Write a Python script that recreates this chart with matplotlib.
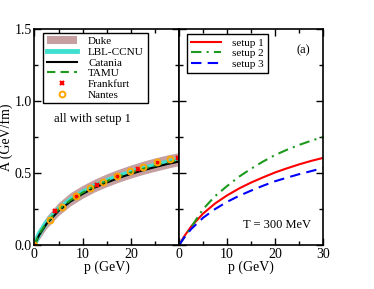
import matplotlib
matplotlib.use("Agg")
import matplotlib.pyplot as plt
from matplotlib.patches import Patch
from matplotlib.lines import Line2D
from matplotlib.ticker import MultipleLocator

plt.rcParams["font.family"] = ["Liberation Serif", "DejaVu Serif"]
plt.rcParams["mathtext.fontset"] = "stix"

# momento (GeV)
p = [0, 1, 2.5, 5, 7.5, 10, 12.5, 15, 17.5, 20, 22.5, 25, 27.5, 30]

# painel esquerdo: todos com setup 1
duke_baixo = [0.0, 0.04, 0.115, 0.205, 0.273, 0.325, 0.369, 0.405, 0.437, 0.465, 0.490, 0.512, 0.533, 0.552]
duke_alto = [0.04, 0.115, 0.198, 0.295, 0.365, 0.415, 0.458, 0.495, 0.527, 0.556, 0.582, 0.605, 0.625, 0.642]
lbl_ccnu = [0.0, 0.08, 0.158, 0.249, 0.315, 0.367, 0.411, 0.447, 0.479, 0.507, 0.532, 0.554, 0.575, 0.594]
catania = [0.0, 0.07, 0.147, 0.237, 0.303, 0.355, 0.399, 0.434, 0.466, 0.494, 0.519, 0.541, 0.562, 0.58]
tamu = [0.0, 0.078, 0.155, 0.246, 0.312, 0.364, 0.408, 0.444, 0.476, 0.504, 0.529, 0.551, 0.572, 0.591]

p_frankfurt = [0, 4.3, 8.6, 12.9, 17.1, 21.4, 25.6, 29.8]
a_frankfurt = [0.0, 0.233, 0.34, 0.417, 0.479, 0.527, 0.572, 0.607]

p_nantes = [0, 3.2, 5.8, 8.7, 11.5, 14.2, 17.1, 19.9, 22.6, 25.4, 28.2]
a_nantes = [0.0, 0.177, 0.267, 0.34, 0.394, 0.44, 0.479, 0.514, 0.544, 0.574, 0.60]

# painel direito: T = 300 MeV
setup1 = [0.0, 0.058, 0.129, 0.219, 0.289, 0.345, 0.393, 0.434, 0.470, 0.504, 0.533, 0.560, 0.584, 0.605]
setup2 = [0.0, 0.05, 0.125, 0.25, 0.34, 0.41, 0.475, 0.53, 0.58, 0.625, 0.662, 0.695, 0.724, 0.75]
setup3 = [0.0, 0.05, 0.111, 0.19, 0.25, 0.30, 0.342, 0.378, 0.412, 0.443, 0.468, 0.492, 0.513, 0.535]

fs = 10     # eixos
fs_leg = 8  # legendas
fs_txt = 9  # textos soltos

cor_duke = "#bc8f8f"
cor_verde = "#1e9a1e"

fig = plt.figure(figsize=(3.74, 2.89), dpi=100)
ax1 = fig.add_axes([0.092, 0.152, 0.387, 0.748])
ax2 = fig.add_axes([0.479, 0.152, 0.385, 0.748])

for ax in (ax1, ax2):
    ax.set_xlim(0, 30)
    ax.set_ylim(0, 1.5)
    ax.xaxis.set_major_locator(MultipleLocator(10))
    ax.xaxis.set_minor_locator(MultipleLocator(5))
    ax.yaxis.set_major_locator(MultipleLocator(0.5))
    ax.yaxis.set_minor_locator(MultipleLocator(0.25))
    ax.tick_params(which="both", direction="in", top=True, right=True, labelsize=fs, width=1, pad=2)
    ax.tick_params(which="major", length=5)
    ax.tick_params(which="minor", length=3)
    for s in ax.spines.values():
        s.set_linewidth(1.2)
    ax.set_xlabel("p (GeV)", fontsize=fs, labelpad=0)

ax1.set_xticks([0, 10, 20, 30])
ax1.set_xticklabels(["0", "10", "20", ""])
ax1.set_yticks([0, 0.5, 1.0, 1.5])
ax1.set_yticklabels(["0.0", "0.5", "1.0", "1.5"])
ax1.tick_params(axis="y", pad=2)
ax1.set_ylabel("A (GeV/fm)", fontsize=fs, labelpad=1)
ax2.set_yticklabels([])

# painel esquerdo
ax1.fill_between(p, duke_baixo, duke_alto, color=cor_duke, alpha=0.85, lw=0)
ax1.plot(p, lbl_ccnu, color="#40e0d0", lw=3.5)
ax1.plot(p, catania, color="black", lw=1.5)
ax1.plot(p, tamu, color=cor_verde, lw=1.5, ls=(0, (4, 2.5)))
ax1.plot(p_frankfurt, a_frankfurt, ls="none", marker="x", color="red", ms=3.5, mew=1.6)
ax1.plot(p_nantes, a_nantes, ls="none", marker="o", mfc="none", mec="orange", ms=4.2, mew=1.4)

handles1 = [
    Patch(facecolor=cor_duke, edgecolor="none", alpha=0.85),
    Line2D([], [], color="#40e0d0", lw=3.5),
    Line2D([], [], color="black", lw=1.5),
    Line2D([], [], color=cor_verde, lw=1.5, ls=(0, (4, 2.5))),
    Line2D([], [], ls="none", marker="x", color="red", ms=3.5, mew=1.6),
    Line2D([], [], ls="none", marker="o", mfc="none", mec="orange", ms=4.2, mew=1.4),
]
nomes1 = ["Duke", "LBL-CCNU", "Catania", "TAMU", "Frankfurt", "Nantes"]
leg1 = ax1.legend(handles1, nomes1, loc="upper left", bbox_to_anchor=(0.06, 0.983), fontsize=fs_leg,
                  frameon=True, fancybox=False, edgecolor="black", framealpha=1,
                  handlelength=2.7, handletextpad=1.0, labelspacing=0.08, borderpad=0.35,
                  borderaxespad=0)
leg1.get_frame().set_linewidth(1.0)
ax1.text(4.0, 0.875, "all with setup 1", fontsize=fs_txt, va="center")

# painel direito
ax2.plot(p, setup1, color="red", lw=1.5)
ax2.plot(p, setup2, color=cor_verde, lw=1.5, ls=(0, (5, 2.5, 1, 2.5)))
ax2.plot(p, setup3, color="blue", lw=1.5, ls=(0, (5, 3)))
leg2 = ax2.legend(["setup 1", "setup 2", "setup 3"], loc="upper left", bbox_to_anchor=(0.055, 0.977),
                  fontsize=fs_leg, frameon=True, fancybox=False, edgecolor="black", framealpha=1,
                  handlelength=2.7, handletextpad=1.0, labelspacing=0.08, borderpad=0.35,
                  borderaxespad=0)
leg2.get_frame().set_linewidth(1.0)
ax2.text(24.5, 1.355, "(a)", fontsize=fs_txt, va="center")
ax2.text(13.2, 0.14, "T = 300 MeV", fontsize=fs_txt, va="center")

fig.savefig("out.png", dpi=100)
